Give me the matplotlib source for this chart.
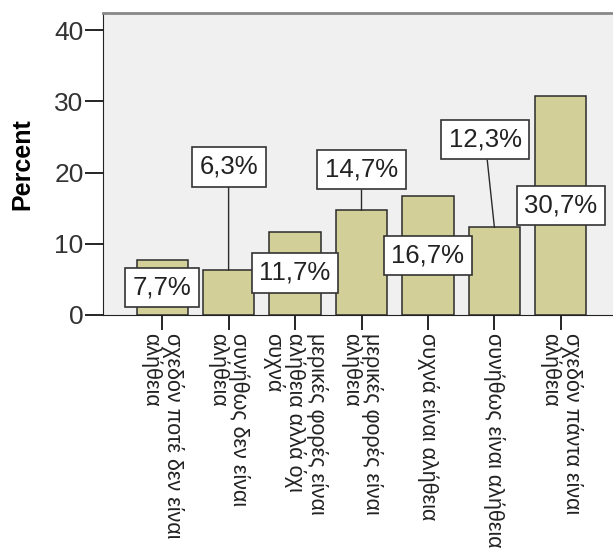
import matplotlib.pyplot as plt

plt.rcParams['font.family'] = ['Liberation Sans', 'DejaVu Sans']

# answer categories (Greek) and percentages
categories = [
    'σχεδόν ποτέ δεν είναι\nαλήθεια',
    'συνήθως δεν είναι\nαλήθεια',
    'μερικές φορές είναι\nαλήθεια αλλά όχι\nσυχνά',
    'μερικές φορές είναι\nαλήθεια',
    'συχνά είναι αλήθεια',
    'συνήθως είναι αλήθεια',
    'σχεδόν πάντα είναι\nαλήθεια',
]
percent = [7.7, 6.3, 11.7, 14.7, 16.7, 12.3, 30.7]
value_labels = ['7,7%', '6,3%', '11,7%', '14,7%', '16,7%', '12,3%', '30,7%']

# where the SPSS label boxes sit (x in bar units, y in percent)
label_x = [0, 1, 2, 3, 4, 4.86, 6]
label_y = [3.9, 20.8, 5.9, 20.4, 8.35, 24.6, 15.4]
leader = [False, True, False, True, False, True, False]

fig = plt.figure(figsize=(6.13, 5.56), dpi=100)
ax = fig.add_axes([103 / 613, 241 / 556, 517 / 613, 302 / 556])
ax.set_facecolor('#f0f0f0')

x = range(len(categories))
ax.bar(x, percent, width=0.77, color='#d3cf98', edgecolor='#2b2b2b', linewidth=1.1, zorder=2)

for i in x:
    arrow = dict(arrowstyle='-', color='#2b2b2b', lw=1, shrinkA=0, shrinkB=0) if leader[i] else None
    ax.annotate(value_labels[i], xy=(i, percent[i]), xytext=(label_x[i], label_y[i]),
                ha='center', va='center', fontsize=18.5, color='#222222', zorder=4,
                bbox=dict(boxstyle='square,pad=0.3', fc='white', ec='#333333', lw=1.2),
                arrowprops=arrow)

ax.set_xlim(-0.89, 6.89)
ax.set_ylim(0, 42.4)
ax.set_yticks([0, 10, 20, 30, 40])
ax.set_xticks(list(x))
ax.set_xticklabels(categories, rotation=-90, ha='center', va='top',
                   multialignment='left', fontsize=15.5, linespacing=1.0,
                   color='#222222')
ax.tick_params(axis='y', length=13, width=1.2, labelsize=19, labelcolor='#333333', pad=1)
ax.tick_params(axis='x', length=11, width=1.2, pad=2)
ax.set_ylabel('Percent', fontsize=18, fontweight='bold', labelpad=14)

ax.spines['top'].set_color('#888888')
ax.spines['top'].set_linewidth(2)
ax.spines['right'].set_visible(False)
ax.spines['left'].set_color('#222222')
ax.spines['bottom'].set_color('#222222')

fig.savefig('out.png', dpi=100)
